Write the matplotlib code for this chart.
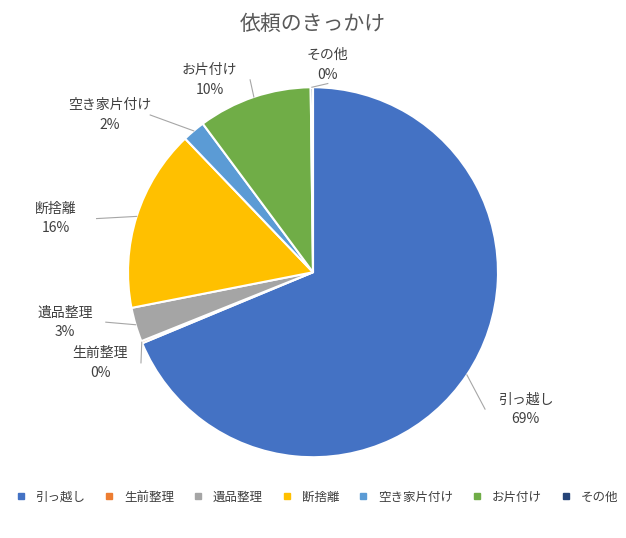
import matplotlib
matplotlib.use("Agg")
import matplotlib.pyplot as plt
import numpy as np

plt.rcParams["font.family"] = "Noto Sans CJK JP"

categories = ["引っ越し", "生前整理", "遺品整理", "断捨離", "空き家片付け", "お片付け", "その他"]
values = [69, 0.2, 3, 16, 2, 10, 0.2]
pct_labels = ["69%", "0%", "3%", "16%", "2%", "10%", "0%"]
colors = ["#4472C4", "#ED7D31", "#A5A5A5", "#FFC000", "#5B9BD5", "#70AD47", "#264478"]
label_pos = [(1.15, -0.74), (-1.15, -0.49), (-1.34, -0.27), (-1.39, 0.29),
             (-1.10, 0.85), (-0.56, 1.04), (0.08, 1.12)]

fig = plt.figure(figsize=(6.26, 5.38), dpi=100)
ax = fig.add_axes([0.5 - 0.2955, 0.494 - 0.344, 0.591, 0.688])
wedges, _ = ax.pie(values, colors=colors, startangle=90, counterclock=False,
                   wedgeprops=dict(edgecolor="white", linewidth=1.5))
ax.set_xlim(-1, 1); ax.set_ylim(-1, 1)
ax.set_aspect("equal")
ax.axis("off")

for w, name, pct, (lx, ly) in zip(wedges, categories, pct_labels, label_pos):
    ang = np.deg2rad((w.theta1 + w.theta2) / 2)
    ex, ey = np.cos(ang), np.sin(ang)
    ax.text(lx, ly, name + "\n" + pct, ha="center", va="center", fontsize=10,
            color="#404040", linespacing=1.5, clip_on=False)
    # leader line
    tx = lx + (0.22 if lx < 0 else -0.22) * (1 if abs(lx) > 0.5 else 0)
    ty = ly if abs(lx) > 0.5 else ly - 0.1
    ax.plot([ex, tx], [ey, ty], color="#A6A6A6", lw=0.8, clip_on=False)

fig.text(0.5, 0.955, "依頼のきっかけ", ha="center", va="center", fontsize=15, color="#595959")

handles = [plt.Line2D([], [], marker="s", ls="", color=c, markersize=5) for c in colors]
fig.legend(handles, categories, loc="center", bbox_to_anchor=(0.5, 0.076), ncol=7,
           frameon=False, fontsize=9, handletextpad=0.2, columnspacing=0.9,
           labelcolor="#404040")
fig.savefig("out.png", dpi=100)
